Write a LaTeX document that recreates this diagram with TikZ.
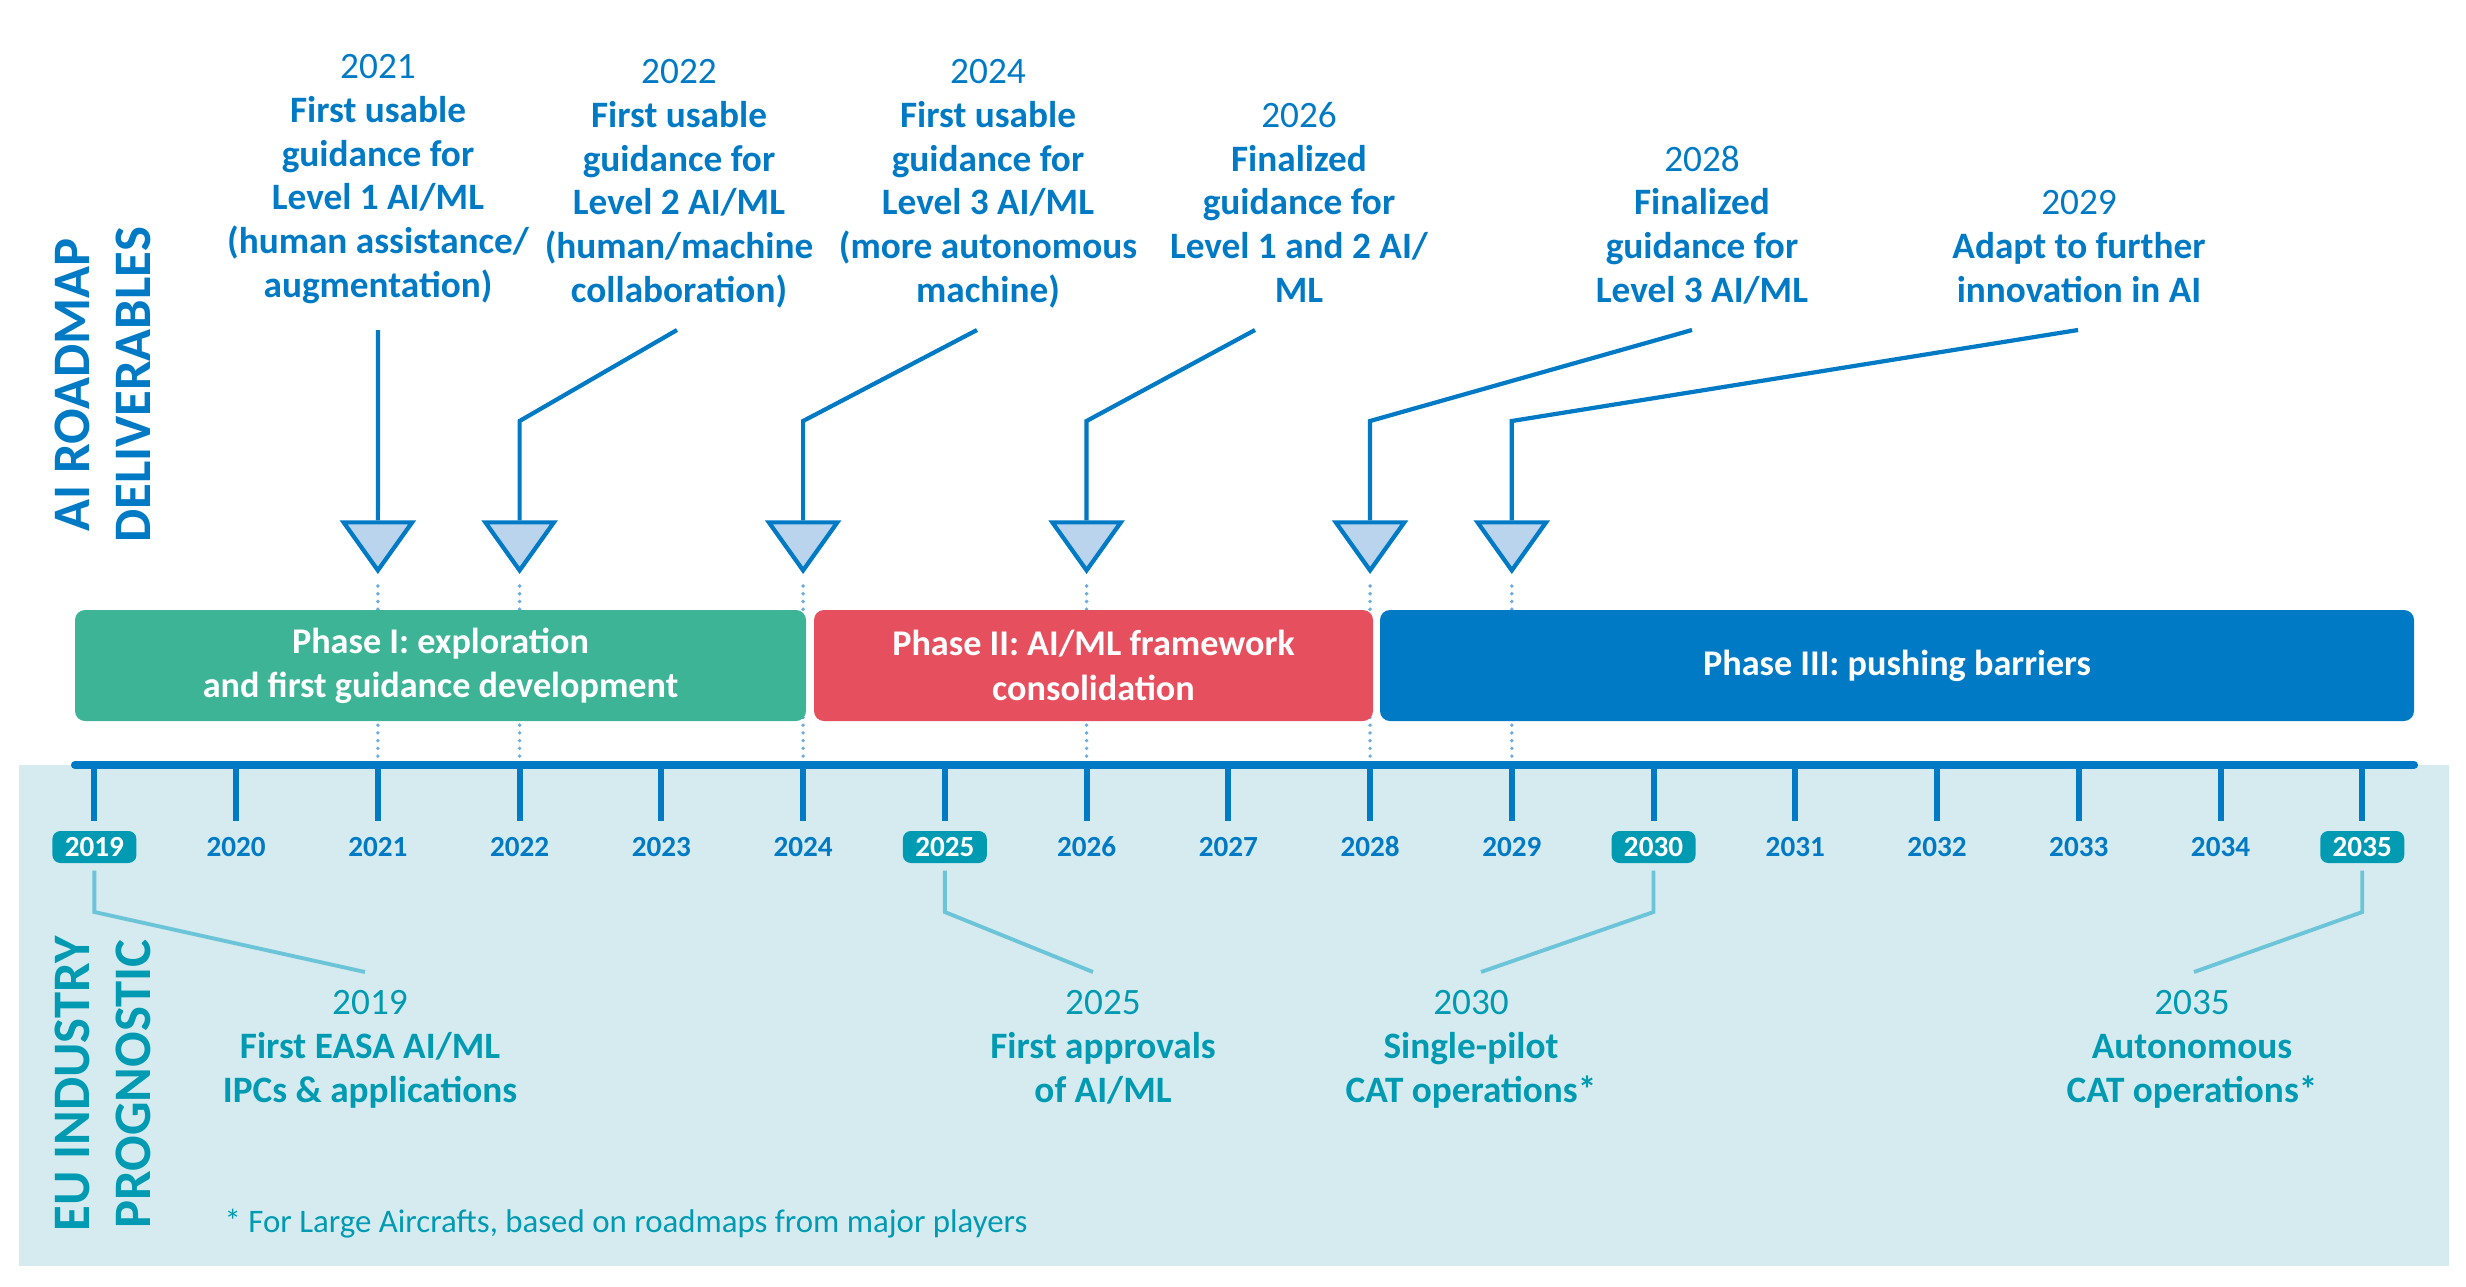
\documentclass[tikz,border=0pt]{standalone}
\usepackage{fontspec}
\setmainfont{Carlito}
\usetikzlibrary{positioning,shapes.geometric}
\definecolor{easablue}{RGB}{0,122,196}
\definecolor{trifill}{RGB}{186,212,238}
\definecolor{dotblue}{RGB}{108,172,226}
\definecolor{phgreen}{RGB}{62,180,151}
\definecolor{phred}{RGB}{230,79,94}
\definecolor{panelcol}{RGB}{213,235,240}
\definecolor{progteal}{RGB}{0,155,178}
\definecolor{plinkcol}{RGB}{108,196,216}
\tikzset{
  phase/.style={
    rectangle,
    rounded corners=1mm,
    minimum height=11.1mm,
    text=white,
    align=center,
    inner sep=0pt,
    font=\fontsize{10.3}{12.6}\selectfont\bfseries},
  deliv/.style={align=center, anchor=base, inner sep=0pt, text=easablue,
    font=\fontsize{10.6}{12.42}\selectfont\bfseries},
  prog/.style={deliv, text=progteal},
  marker/.style={
    isosceles triangle,
    isosceles triangle apex angle=71,
    shape border rotate=270,
    minimum size=4.8mm,
    inner sep=0pt,
    draw=easablue, fill=trifill, line width=1.2pt,
    anchor=apex},
  link/.style={draw=easablue, line width=1.2pt},
  plink/.style={draw=plinkcol, line width=1.1pt},
  guide/.style={draw=dotblue, line width=1.1pt, line cap=round,
    dash pattern=on 0pt off 2.2pt},
  tick/.style={draw=easablue, line width=1.7pt},
  yearlbl/.style={inner sep=0pt, text=easablue,
    font=\fontsize{8.3}{10}\selectfont\bfseries},
  yearbox/.style={yearlbl, fill=progteal, text=white,
    rounded corners=0.8mm, minimum width=8.4mm, minimum height=3.2mm},
  sidetitle/.style={rotate=90, align=center, inner sep=0pt,
    font=\fontsize{15}{17.3}\selectfont\bfseries},
}
\begin{document}
\begin{tikzpicture}[x=0.1mm,y=-0.1mm]
  \useasboundingbox (0,0) rectangle (2466,1286);
  % lower band
  \fill[panelcol] (19,765) rectangle (2449,1266);
  \coordinate (ylab) at (0,847);
  \coordinate (tip) at (0,574);
  \coordinate (bend) at (0,421);
  \coordinate (knee) at (0,912);
  % time axis
  \draw[easablue, line width=2.3pt, line cap=round] (75,765) -- (2414,765);
  \foreach \yr [count=\i from 0] in {2019,...,2035} {
    \coordinate (k\yr) at (94.4+141.74*\i,769);
    \draw[tick] (k\yr) -- ++(0,52);
  }
  \foreach \yr in {2020,2021,2022,2023,2024,2026,2027,2028,2029,2031,2032,2033,2034}
    \node[yearlbl] (n\yr) at (k\yr |- ylab) {\yr};
  \foreach \yr in {2019,2025,2030,2035}
    \node[yearbox] (n\yr) at (k\yr |- ylab) {\yr};

  % markers and guides
  \foreach \yr in {2021,2022,2024,2026,2028,2029} {
    \node[marker] (t\yr) at (k\yr |- tip) {};
    \draw[guide] ([yshift=-1.2mm]t\yr.apex) -- ([yshift=1.2mm]k\yr);
  }

  % phases
  \node[phase, fill=phgreen, minimum width=73.1mm] (ph1) at (440.5,665.5)
    {Phase I: exploration\\and first guidance development};
  \node[phase, fill=phred, minimum width=55.9mm] (ph2) at (1093.5,665.5)
    {Phase II: AI/ML framework\\consolidation};
  \node[phase, fill=easablue, minimum width=103.4mm] (ph3) at (1897,665.5)
    {Phase III: pushing barriers};

  % side titles
  \node[sidetitle, text=easablue] (roadmap) at (103,385) {AI ROADMAP\\DELIVERABLES};
  \node[sidetitle, text=progteal] (industry) at (103,1084) {EU INDUSTRY\\PROGNOSTIC};

  % deliverables (base = last line)
  \node[deliv] (l2021) at (378,297) {{\mdseries 2021}\\First usable\\guidance for\\Level 1 AI/ML\\(human assistance/\\augmentation)};
  \node[deliv] (l2022) at (679,302) {{\mdseries 2022}\\First usable\\guidance for\\Level 2 AI/ML\\(human/machine\\collaboration)};
  \node[deliv] (l2024) at (988,302) {{\mdseries 2024}\\First usable\\guidance for\\Level 3 AI/ML\\(more autonomous\\machine)};
  \node[deliv] (l2026) at (1299,302) {{\mdseries 2026}\\Finalized\\guidance for\\Level 1 and 2 AI/\\ML};
  \node[deliv] (l2028) at (1702,302) {{\mdseries 2028}\\Finalized\\guidance for\\Level 3 AI/ML};
  \node[deliv] (l2029) at (2079,302) {{\mdseries 2029}\\Adapt to further\\innovation in AI};

  \coordinate (s2021) at (378,330);
  \coordinate (s2022) at (677,330);
  \coordinate (s2024) at (977,330);
  \coordinate (s2026) at (1255,330);
  \coordinate (s2028) at (1692,330);
  \coordinate (s2029) at (2078,330);
  \draw[link] (s2021) -- (t2021.north);
  \foreach \yr in {2022,2024,2026,2028,2029}
    \draw[link] (s\yr) -- (t\yr.north |- bend) -- (t\yr.north);

  % industry prognostic
  \node[prog] (p2019) at (370,1102) {{\mdseries 2019}\\First EASA AI/ML\\IPCs \& applications};
  \node[prog] (p2025) at (1103,1102) {{\mdseries 2025}\\First approvals\\of AI/ML};
  \node[prog] (p2030) at (1471,1102) {{\mdseries 2030}\\Single-pilot\\CAT operations*};
  \node[prog] (p2035) at (2192,1102) {{\mdseries 2035}\\Autonomous\\CAT operations*};

  \coordinate (e2019) at (365,972);
  \coordinate (e2025) at (1093,972);
  \coordinate (e2030) at (1481,972);
  \coordinate (e2035) at (2194,972);
  \foreach \yr in {2019,2025,2030,2035}
    \draw[plink] ([yshift=-0.7mm]n\yr.south) -- (n\yr.south |- knee) -- (e\yr);

  \node[anchor=base west, inner sep=0pt, text=progteal,
    font=\fontsize{9.35}{11}\selectfont] (note) at (224,1232)
    {* For Large Aircrafts, based on roadmaps from major players};
\end{tikzpicture}
\end{document}
